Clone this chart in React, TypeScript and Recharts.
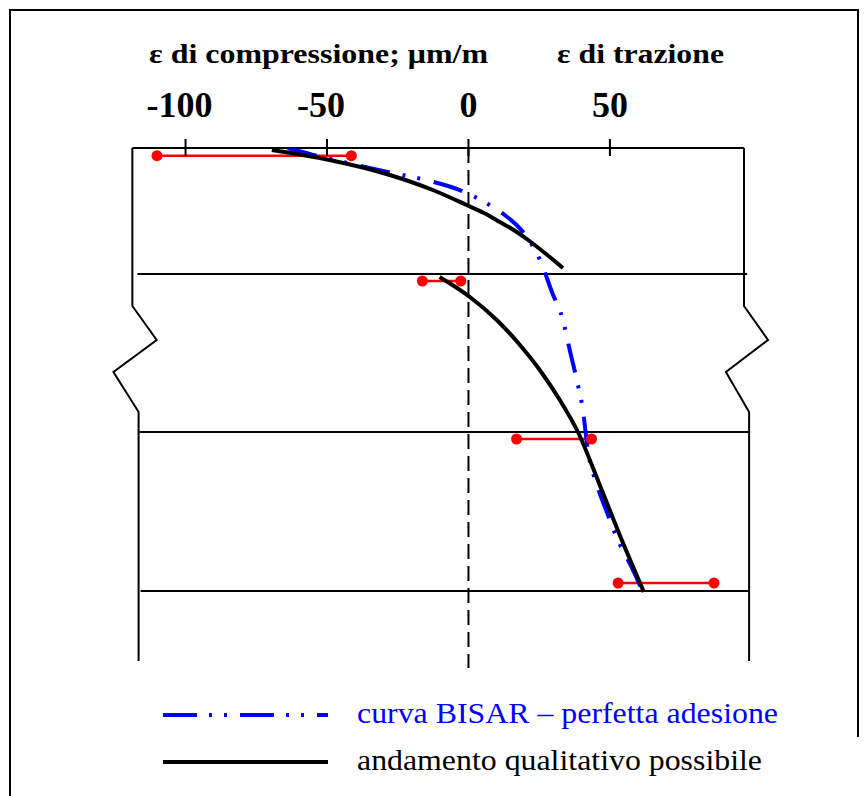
import React from 'react';
import { LineChart, Line, XAxis, YAxis, ReferenceLine, Legend } from 'recharts';

// strain (µm/m) and depth (cm, 0 = surface)
const epsTicks = [-100, -50, 0, 50];

const epsQualSup = [-69.5, -49.1, -27.8, -12.6, 0.1, 5.5, 11.1, 16.0, 20.6, 27.0, 33.4];
const profQualSup = [0.2, 1.2, 2.7, 4.2, 5.8, 6.5, 7.4, 8.2, 9.1, 10.5, 12.0];

const epsQualInf = [-10.2, 0.5, 10.0, 18.2, 25.2, 32.3, 38.7, 46.4, 54.2, 62.0];
const profQualInf = [12.9, 14.9, 17.2, 19.7, 22.2, 25.2, 28.4, 33.7, 39.2, 44.4];

const epsBisar = [
  -63.9, -53.3, -42.7, -26.8, -16.5, -0.6, 8.6, 12.8, 20.6, 25.9, 29.5,
  33.4, 35.8, 38.7, 40.4, 42.2, 45.4, 48.9, 52.8, 57.8, 61.3,
];
const profBisar = [
  0, 0.8, 1.5, 2.5, 3.1, 4.5, 5.9, 6.7, 8.9, 11.6, 14.4,
  17.2, 20.2, 23.7, 26.1, 30.2, 33.7, 36.4, 39.2, 42.0, 44.2,
];

// measured ranges (red bars)
const misuraProf = [0.77, 13.3, 29.1, 43.5];
const misuraMin = [-110.1, -16.3, 17.0, 52.9];
const misuraMax = [-41.4, -2.7, 43.5, 86.8];

// pavement section: surface, layer interfaces, side edges with break marks
const superficie = { da: -118.8, a: 97.4, prof: 0 };
const interfacciaProf = [12.6, 28.4, 44.3];
const interfacciaDa = [-117.0, -116.3, -115.9];
const interfacciaA = [98.5, 99.2, 99.2];

const profBordo = [0, 15.8, 19.2, 22.4, 26.4, 51.3];
const epsBordoSx = [-118.8, -118.8, -110.2, -125.5, -116.6, -116.6];
const epsBordoDx = [97.4, 97.4, 105.9, 91.0, 99.2, 99.2];

const legendItems = [
  { name: 'curva BISAR \u2013 perfetta adesione', color: '#0000ff', dash: '34 12 3 12 3 13', len: 421 },
  { name: 'andamento qualitativo possibile', color: '#000000', dash: undefined, len: 405 },
];

const zip = (xs: number[], ys: number[]) => xs.map((x, i) => ({ x, y: ys[i] }));

const W = 866;
const H = 796;
const AXIS_H = 148;
const MARGIN = { top: 0, left: 112, right: 92, bottom: 128 };
const AXIS_Y = MARGIN.top + AXIS_H;
const SERIF = '"Liberation Serif", "Times New Roman", serif';
const BLUE_DASH = '30 13 3 12 3 14';

function EpsTick(props: any) {
  const { x, payload } = props;
  const v = payload.value as number;
  return (
    <g>
      <line x1={x} x2={x} y1={AXIS_Y - 9} y2={AXIS_Y + 8} stroke="#000" strokeWidth={2} />
      <text
        x={x}
        y={AXIS_Y - 31}
        dx={v < 0 ? -6 : 0}
        textAnchor="middle"
        fontFamily={SERIF}
        fontWeight="bold"
        fontSize={36}
        fill="#000"
      >
        {v}
      </text>
    </g>
  );
}

function Legenda() {
  return (
    <svg width={650} height={100}>
      {legendItems.map((it, i) => {
        const y = 27 + i * 47;
        return (
          <g key={it.name}>
            <line x1={13} x2={178} y1={y} y2={y} stroke={it.color} strokeWidth={4} strokeDasharray={it.dash} />
            <text
              x={207}
              y={y + 8}
              fontFamily={SERIF}
              fontSize={29}
              fill={it.color}
              textLength={it.len}
              lengthAdjust="spacingAndGlyphs"
            >
              {it.name}
            </text>
          </g>
        );
      })}
    </svg>
  );
}

export default function App() {
  return (
    <div style={{ position: 'absolute', left: 0, top: 0, width: W, height: H, background: '#fff' }}>
      <div style={{ position: 'absolute', left: 9, top: 9, width: 0, height: H, borderLeft: '2px solid #000' }} />
      <div style={{ position: 'absolute', left: 9, top: 9, width: 848, height: 0, borderTop: '2px solid #000' }} />
      <div style={{ position: 'absolute', left: 857, top: 9, width: 0, height: 728, borderLeft: '2px solid #000' }} />

      <LineChart width={W} height={H} margin={MARGIN}>
        <XAxis
          type="number"
          dataKey="x"
          orientation="top"
          height={AXIS_H}
          domain={[-126, 108]}
          ticks={epsTicks}
          allowDataOverflow
          axisLine={false}
          tickLine={false}
          tick={<EpsTick />}
        />
        <YAxis type="number" dataKey="y" domain={[0, 52]} reversed hide allowDataOverflow />

        <ReferenceLine
          segment={[{ x: superficie.da, y: superficie.prof }, { x: superficie.a, y: superficie.prof }]}
          stroke="#000"
          strokeWidth={2}
        />
        {interfacciaProf.map((p, i) => (
          <ReferenceLine
            key={'int' + i}
            segment={[{ x: interfacciaDa[i], y: p }, { x: interfacciaA[i], y: p }]}
            stroke="#000"
            strokeWidth={2}
          />
        ))}
        <ReferenceLine
          segment={[{ x: 0, y: 0 }, { x: 0, y: 52 }]}
          stroke="#000"
          strokeWidth={2}
          strokeDasharray="15 7"
        />

        <Line data={zip(epsBordoSx, profBordo)} dataKey="y" type="linear" stroke="#000" strokeWidth={2}
          dot={false} activeDot={false} legendType="none" isAnimationActive={false} />
        <Line data={zip(epsBordoDx, profBordo)} dataKey="y" type="linear" stroke="#000" strokeWidth={2}
          dot={false} activeDot={false} legendType="none" isAnimationActive={false} />

        {misuraProf.map((p, i) => (
          <Line
            key={'mis' + i}
            data={[{ x: misuraMin[i], y: p }, { x: misuraMax[i], y: p }]}
            dataKey="y"
            type="linear"
            stroke="#ff0000"
            strokeWidth={2.5}
            dot={{ r: 5.5, fill: '#ff0000', stroke: '#ff0000', strokeWidth: 0 }}
            activeDot={false}
            legendType="none"
            isAnimationActive={false}
          />
        ))}

        <Line data={zip(epsBisar, profBisar)} dataKey="y" name="curva BISAR" type="monotone"
          stroke="#0000ff" strokeWidth={4} strokeDasharray={BLUE_DASH}
          dot={false} activeDot={false} isAnimationActive={false} />
        <Line data={zip(epsQualSup, profQualSup)} dataKey="y" name="andamento qualitativo" type="monotone"
          stroke="#000" strokeWidth={4} dot={false} activeDot={false} isAnimationActive={false} />
        <Line data={zip(epsQualInf, profQualInf)} dataKey="y" type="monotone" legendType="none"
          stroke="#000" strokeWidth={4} dot={false} activeDot={false} isAnimationActive={false} />

        <Legend
          layout="horizontal"
          verticalAlign="middle"
          align="center"
          wrapperStyle={{ top: 688, left: 150, width: 650, height: 100 }}
          content={() => <Legenda />}
        />
      </LineChart>

      <svg width={W} height={100} style={{ position: 'absolute', left: 0, top: 0, pointerEvents: 'none' }}>
        <text x={149} y={63} fontFamily={SERIF} fontWeight="bold" fontSize={27}
          textLength={339} lengthAdjust="spacingAndGlyphs">
          {'\u03b5 di compressione; \u03bcm/m'}
        </text>
        <text x={557} y={63} fontFamily={SERIF} fontWeight="bold" fontSize={27}
          textLength={167} lengthAdjust="spacingAndGlyphs">
          {'\u03b5 di trazione'}
        </text>
      </svg>
    </div>
  );
}
